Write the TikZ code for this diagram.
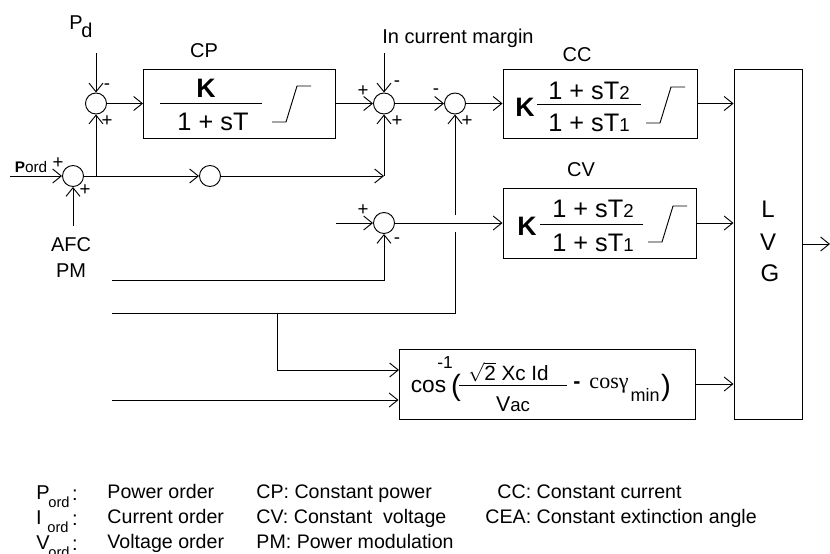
\documentclass[tikz,border=0pt]{standalone}
\usepackage{fontspec}
\setmainfont{Liberation Sans}
\newfontfamily\serifgamma{Liberation Serif}
\usetikzlibrary{arrows.meta}
\newcommand{\sz}[1]{\fontsize{#1}{#1}\selectfont}

\begin{document}
\begin{tikzpicture}[
    x=0.75pt, y=-0.75pt,
    line width=0.7pt,
    box/.style={
        draw=black,
        rectangle,
        inner sep=0pt
    },
    sum/.style={
        draw=black,
        circle,
        minimum size=15.75pt,
        inner sep=0pt
    },
    arrow/.style={
        -{Straight Barb[length=6.5pt,width=10.5pt]}
    },
    txt/.style={font=\sz{15}, inner sep=0pt},
    frac/.style={font=\sz{19}, inner sep=0pt},
    gain/.style={font=\bfseries\sz{20}, inner sep=0pt},
    sgn/.style={font=\sz{14}, inner sep=0pt},
    sub/.style={font=\sz{11}, inner sep=0pt},
    leg/.style={font=\sz{14.7}, inner sep=0pt, anchor=base west}
]
\useasboundingbox (0,0) rectangle (830,553);

% Blocks
\node[box, minimum width=144pt, minimum height=51.75pt] (cp)  at (239.5,103.5) {};
\node[box, minimum width=145.5pt, minimum height=51.75pt] (cc)  at (600,103.5) {};
\node[box, minimum width=144.75pt, minimum height=52.5pt] (cv)  at (599.5,223) {};
\node[box, minimum width=222pt, minimum height=52.5pt] (acos) at (547,384) {};
\node[box, minimum width=51pt, minimum height=262.5pt] (lvg) at (768,244) {};

% Summing points
\node[sum] (s1) at (96,103.5) {};
\node[sum] (s2) at (73,176) {};
\node[sum] (s3) at (210,176) {};
\node[sum] (s4) at (384,103.5) {};
\node[sum] (s5) at (455,103.5) {};
\node[sum] (s6) at (384,223) {};

% Free ends
\coordinate (pdin)   at (96,53);
\coordinate (ordin)  at (10,176);
\coordinate (afcin)  at (73,226);
\coordinate (marin)  at (384,53);
\coordinate (tap)    at (96,176);
\coordinate (kink)   at (384,176);
\coordinate (fbin)   at (336,223);
\coordinate (vin)    at (112,280);
\coordinate (iin)    at (112,313.5);
\coordinate (itap)   at (277,313.5);
\coordinate (ilow)   at (455,232);
\coordinate (ihigh)  at (455,215);
\coordinate (iarc)   at (399,370);
\coordinate (gin)    at (112,400);
\coordinate (out)    at (830,244);

% Arrows
\draw[arrow] (pdin)  -- (s1);
\draw[arrow] (s1)    -- (cp);
\draw[arrow] (tap)   -- (s1);
\draw[arrow] (ordin) -- (s2);
\draw[arrow] (afcin) -- (s2);
\draw[arrow] (s2)    -- (s3);
\draw[arrow] (s3)    -- (kink);
\draw[arrow] (kink)  -- (s4);
\draw[arrow] (marin) -- (s4);
\draw[arrow] (cp)    -- (s4);
\draw[arrow] (s4)    -- (s5);
\draw[arrow] (s5)    -- (cc);
\draw[arrow] (ihigh) -- (s5);
\draw[arrow] (s6)    -- (cv);
\draw[arrow] (fbin)  -- (s6);
\draw[arrow] (vin)   -| (s6);
\draw (iin) -| (ilow);
\draw[arrow] (itap)  |- (iarc);
\draw[arrow] (gin)   -- (acos.west |- gin);
\draw[arrow] (cc)    -- (lvg.west |- cc);
\draw[arrow] (cv)    -- (lvg.west |- cv);
\draw[arrow] (acos)  -- (lvg.west |- acos);
\draw[arrow] (lvg.east |- out) -- (out);

% Limiters
\draw (272,122) -- ++(14,0) -- ++(11,-36) -- ++(14,0);
\draw (646,123) -- ++(14,0) -- ++(11,-36) -- ++(14,0);
\draw (648,242) -- ++(14,0) -- ++(11,-36) -- ++(14,0);

% Fraction bars
\draw (160,103.5) -- (262,103.5);
\draw (537,104) -- (641,104);
\draw (540,224) -- (643,224);
\draw (459,385) -- (567,385);

% Block labels
\node[txt] (cplab) at (204,51) {CP};
\node[txt] (cclab) at (577,55) {CC};
\node[txt] (cvlab) at (581,170) {CV};
\node[txt] (marlab) at (458,38) {In current margin};
\node[txt, anchor=base west] (pdlab) at (69,29) {P\kern-1pt\raisebox{-6.5pt}{d}};
\node[txt] (afclab) at (71,245) {AFC};
\node[txt] (pmlab) at (71,271) {PM};
\node[inner sep=0pt, font=\sz{11.5}] (ordlab) at (31,167) {\textbf{P}ord};

% Transfer functions
\node[gain] (cpk) at (206,88) {K};
\node[frac] (cpden) at (213,122) {1 + sT};
\node[gain] (cck) at (525,107) {K};
\node[frac] (ccnum) at (589,91) {1 + sT{\sz{14}2}};
\node[frac] (ccden) at (589,123) {1 + sT{\sz{14}1}};
\node[gain] (cvk) at (527,226) {K};
\node[frac] (cvnum) at (593,209) {1 + sT{\sz{14}2}};
\node[frac] (cvden) at (593,243) {1 + sT{\sz{14}1}};

% LVG
\node[font=\sz{18}, inner sep=0pt] (lvgl) at (768,209) {L};
\node[font=\sz{18}, inner sep=0pt] (lvgv) at (768,242) {V};
\node[font=\sz{18}, inner sep=0pt] (lvgg) at (770,273) {G};

% Angle block
\node[font=\sz{17}, inner sep=0pt] (coslab) at (428.5,387) {cos};
\node[font=\sz{13}, inner sep=0pt] (cosexp) at (445,363) {-1};
\node[font=\sz{22}, inner sep=0pt] (lpar) at (456,388) {(};
\node[font=\sz{15.5}, inner sep=0pt] (angnum) at (508.5,372) {$\sqrt{\hbox{2}}$ Xc Id};
\node[font=\sz{16}, inner sep=0pt] (angden) at (513,404) {V{\sz{14}ac}};
\node[font=\bfseries\sz{16}, inner sep=0pt] (minus) at (577,385) {-};
\node[font=\serifgamma\sz{16.5}, inner sep=0pt] (cosg) at (609,386) {cosγ};
\node[font=\sz{13.5}, inner sep=0pt] (minlab) at (645,395) {min};
\node[font=\sz{22}, inner sep=0pt] (rpar) at (666,388) {)};

% Signs
\node[sgn] (s1a) at (107,87) {-};
\node[sgn] (s1b) at (107,121) {+};
\node[sgn] (s2a) at (58,163) {+};
\node[sgn] (s2b) at (85,190) {+};
\node[sgn] (s4a) at (363,91) {+};
\node[sgn] (s4b) at (397,84) {-};
\node[sgn] (s4c) at (397,121) {+};
\node[sgn] (s5a) at (436,92) {-};
\node[sgn] (s5b) at (467,121) {+};
\node[sgn] (s6a) at (363,210) {+};
\node[sgn] (s6b) at (397,241) {-};

% Legend
\node[txt] (lp) at (43,493) {P};
\node[sub] (lpo) at (59,502) {ord};
\node[txt] (lpc) at (75,495) {:};
\node[txt] (li) at (39,518) {I};
\node[sub] (lio) at (58,527) {ord};
\node[txt] (lic) at (75,520) {:};
\node[txt] (lv) at (43,543) {V};
\node[sub] (lvo) at (59,552) {ord};
\node[txt] (lvc) at (75,545) {:};
\node[leg] (po) at (107,498) {Power order};
\node[leg] (co) at (107,523) {Current order};
\node[leg] (vo) at (107,548) {Voltage order};
\node[leg] (cpt) at (256,498) {CP: Constant power};
\node[leg] (cvt) at (256,523) {CV: Constant\ \ voltage};
\node[leg] (pmt) at (256,548) {PM: Power modulation};
\node[leg] (cct) at (497,498) {CC: Constant current};
\node[leg] (cea) at (485,523) {CEA: Constant extinction angle};

\end{tikzpicture}
\end{document}
